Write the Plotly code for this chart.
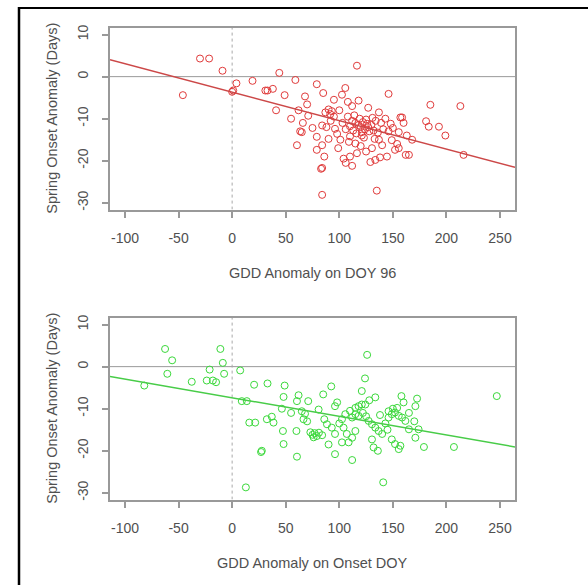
import plotly.graph_objects as go

# ---------------- data ----------------
top_x = [-46, -30, -21.5, -9, 4, 0, 1, 19, 31, 33, 38, 44, 41, 49,
         116.5, 59, 79, 85, 105.6, 102.5, 68, 146, 70, 62, 71, 90, 91.6, 93, 118, 112, 127, 137, 157, 148,
         112, 115, 118, 120, 122, 124, 126, 128, 113, 116, 119, 121, 125, 127, 130, 132, 134, 136, 110, 108,
         114, 131, 139, 141, 143, 110, 106, 123, 133,
         84, 96, 98, 65, 79, 84, 60.5, 79, 109, 115, 121, 130.5, 140, 149, 152, 144.5, 133.6, 110, 116.5,
         112, 84, 84, 135, 155.5,
         185, 213, 181, 183.5, 193, 199, 158.6, 168, 165, 162, 216, 154, 155.5,
         92, 88, 95, 100, 103, 101, 90, 86, 99, 104, 120, 125, 137, 146, 150, 160, 163, 138, 129, 106,
         75, 66, 55, 95, 108, 87, 63.5, 83]
top_y = [-4.4, 4.3, 4.3, 1.4, -1.6, -3.6, -3.3, -1.0, -3.3, -3.3, -2.9, 0.9, -8, -4.4,
         2.6, -0.8, -1.8, -3.9, -2.7, -4.3, -4.7, -4.1, -6.6, -8.0, -9.3, -7.8, -8.9, -8.2, -5.7, -7.0, -7.4, -8.5, -9.7, -11.2,
         -10.5, -11, -11.5, -12, -10.8, -12.5, -11.2, -13, -12.8, -13.5, -10, -13.2, -10.2, -12, -11.5, -12.8, -10.5, -13.3, -11.8, -9.5,
         -9.2, -9.8, -11, -12.5, -10, -14.2, -12.5, -14.5, -14.8,
         -11.6, -12.4, -13.6, -13.2, -14.3, -16.3, -16.3, -17.4, -15.5, -15.9, -14, -17, -16.3, -15.1, -17.4, -19, -19.8, -19, -18.2,
         -21.2, -21.7, -28.1, -27.1, -13.2,
         -6.7, -7, -10.6, -11.9, -11.9, -14, -9.7, -15, -18.6, -18.6, -18.6, -16, -17,
         -10.5, -12, -9.5, -8, -11, -15, -14.8, -19, -17, -19.5, -16.5, -17.8, -15, -13, -12.2, -11, -14, -19.2, -20.3, -20.5,
         -12.2, -11, -10, -5.5, -6, -8.5, -13, -21.9]

bot_x = [-62.6, -56, -60.5, -82, -37.7, -23.7, -18, -15, -21, -11, -8.7, -7.5, 7.5, 9, 13.7, 20.5, 33, 49, 48, 46.4,
         16, 21.5, 32.4, 37, 38.6, 47.4, 48, 27, 12.8,
         126, 124, 247, 92.5, 85, 121, 133.6, 158, 172.6, 171, 62, 60.5, 71, 80.7, 96, 65, 68, 66.6, 60, 27.7, 60.5, 96, 112, 141,
         73, 75, 77, 79, 81, 84, 76,
         88.5, 93, 96, 102.5, 105.6, 107, 112, 115, 102.5, 108.7,
         115, 118, 121, 124.3, 115, 118, 112,
         127.4, 130.5, 133.6, 136.7, 140, 130.5, 132,
         146, 149, 152, 155.5, 146, 158.6, 161.7, 150, 154,
         149, 152, 155.5, 157, 165, 174, 171, 179, 207,
         100, 110, 122, 128, 125, 143, 160, 165, 170, 138, 86, 104, 98, 90, 70, 55, 136, 145]
bot_y = [4.2, 1.5, -1.7, -4.5, -3.6, -3.3, -3.3, -3.7, -0.7, 4.2, 0.9, -1.7, -0.9, -8.2, -8.2, -4.3, -4, -4.5, -7.2, -10,
         -13.3, -13.3, -12.5, -11.9, -13.3, -15.3, -18.4, -20.3, -28.7,
         2.8, -2.8, -7, -4.7, -6.6, -5.8, -7.3, -7, -7.6, -9.4, -6.8, -8.2, -8.2, -10.2, -9.4, -10.6, -11.2, -12.5, -15.3, -20, -21.4, -20.8, -22.2, -27.5,
         -15.6, -16.2, -15.8, -16.5, -15.7, -16.3, -16.8,
         -13.7, -14.5, -16, -12.5, -11.3, -16, -16.9, -15.3, -18, -18,
         -9.8, -9.4, -9, -9, -11.3, -11.7, -12.1,
         -12.9, -13.7, -14.5, -15.3, -16, -17.3, -19.2,
         -10.6, -11.3, -10.9, -11.7, -12.1, -12.1, -12.9, -10, -9.8,
         -17.3, -18.4, -19.6, -18.8, -14.9, -14.9, -16.9, -19.1, -19.1,
         -13.5, -10.5, -11, -8, -11.8, -13.5, -8.5, -11, -13, -11.5, -12.5, -14.5, -8.5, -18.5, -13, -11, -20, -15]

# fitted regression lines (intercept, slope)
top_fit = [-3.7, -0.0677]
bot_fit = [-7.4, -0.0443]

x_ticks = [-100, -50, 0, 50, 100, 150, 200, 250]
x_tick_labels = ["-100", "-50", "0", "50", "100", "150", "200", "250"]
y_ticks = [-30, -20, -10, 0, 10]
y_tick_labels = ["-30", "-20", "-10", "0", "10"]
x_range = [-114, 264]
y_range = [-31.6, 11.6]

x_titles = ["GDD Anomaly on DOY 96", "GDD Anomaly on Onset DOY"]
y_title = "Spring Onset Anomaly (Days)"

# ---------------- figure ----------------
W, H = 588, 586
fig = go.Figure()

def line_pts(fit):
    xs = list(x_range)
    return xs, [fit[0] + fit[1] * v for v in xs]

panels = [
    dict(x=top_x, y=top_y, fit=top_fit, mcol="#e03a3a", lcol="#cc4848", xa="x", ya="y"),
    dict(x=bot_x, y=bot_y, fit=bot_fit, mcol="#3ad83a", lcol="#48cc48", xa="x2", ya="y2"),
]

for p in panels:
    fig.add_trace(go.Scatter(x=x_range, y=[0, 0], mode="lines",
                             line=dict(color="#9a9a9a", width=1), xaxis=p["xa"], yaxis=p["ya"],
                             showlegend=False, hoverinfo="skip"))
    fig.add_trace(go.Scatter(x=[0, 0], y=y_range, mode="lines",
                             line=dict(color="#a8a8a8", width=1, dash="dot"), xaxis=p["xa"], yaxis=p["ya"],
                             showlegend=False, hoverinfo="skip"))
    fig.add_trace(go.Scatter(x=p["x"], y=p["y"], mode="markers",
                             marker=dict(symbol="circle-open", size=7, color=p["mcol"], line=dict(width=1)),
                             xaxis=p["xa"], yaxis=p["ya"], showlegend=False))
    lx, ly = line_pts(p["fit"])
    fig.add_trace(go.Scatter(x=lx, y=ly, mode="lines",
                             line=dict(color=p["lcol"], width=1.5), xaxis=p["xa"], yaxis=p["ya"],
                             showlegend=False))

box_l, box_r = 110, 515
boxes = [(25, 208), (317, 500)]

axis_common = dict(showgrid=False, zeroline=False, showline=True, mirror=True,
                   linecolor="#999999", linewidth=2, ticks="outside", ticklen=6,
                   tickcolor="#999999", tickwidth=1.5,
                   tickfont=dict(family="Liberation Sans, Arial", size=14, color="#505050"))

layout = dict(width=W, height=H, margin=dict(l=0, r=0, t=0, b=0),
              paper_bgcolor="white", plot_bgcolor="white", showlegend=False)

for i, (t, b) in enumerate(boxes):
    sfx = "" if i == 0 else str(i + 1)
    layout["xaxis" + sfx] = dict(axis_common, domain=[box_l / W, box_r / W], range=x_range,
                                 tickvals=x_ticks, ticktext=x_tick_labels, ticklabelstandoff=9,
                                 anchor="y" + sfx)
    layout["yaxis" + sfx] = dict(axis_common, domain=[1 - b / H, 1 - t / H], range=y_range,
                                 tickvals=y_ticks, ticktext=y_tick_labels, tickangle=-90,
                                 ticklabelstandoff=8, anchor="x" + sfx)

fig.update_layout(**layout)

title_font = dict(family="Liberation Sans, Arial", size=14.5, color="#505050")
for i, (t, b) in enumerate(boxes):
    fig.add_annotation(text=x_titles[i], xref="paper", yref="paper",
                       x=(box_l + box_r) / 2 / W, y=1 - (b + 64) / H,
                       showarrow=False, font=title_font, xanchor="center", yanchor="middle")
    fig.add_annotation(text=y_title, xref="paper", yref="paper",
                       x=52 / W, y=1 - ((t + b) / 2) / H, textangle=-90,
                       showarrow=False, font=title_font, xanchor="center", yanchor="middle")

# black frame lines (top and left)
fig.add_shape(type="line", xref="paper", yref="paper", x0=18 / W, x1=1, y0=1 - 5 / H, y1=1 - 5 / H,
              line=dict(color="black", width=2))
fig.add_shape(type="line", xref="paper", yref="paper", x0=19 / W, x1=19 / W, y0=0, y1=1 - 4 / H,
              line=dict(color="black", width=2.5))

fig.write_html("out.html")
